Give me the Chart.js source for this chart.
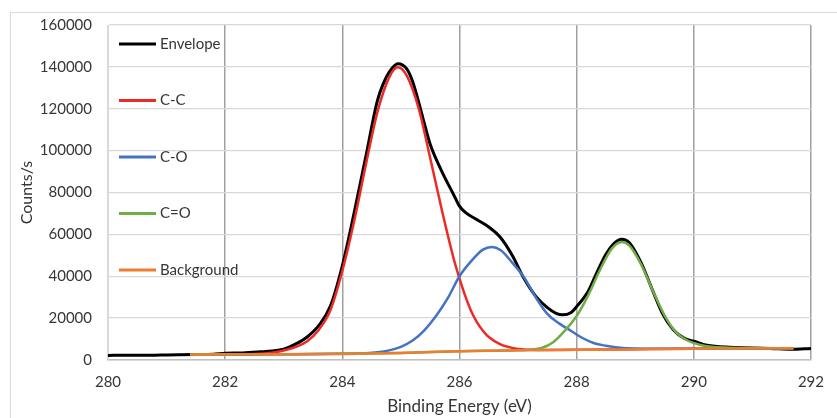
<!DOCTYPE html>
<html>
<head>
<meta charset="utf-8">
<script src="https://cdn.jsdelivr.net/npm/chart.js@4.4.0/dist/chart.umd.min.js"></script>
<style>
  html, body { margin: 0; padding: 0; background: #fff; overflow: hidden; }
  #frame { position: absolute; left: 10px; top: 12px; width: 900px; height: 500px; border: 1px solid #d9d9d9; }
  #wrap { position: absolute; left: 0; top: 0; width: 837px; height: 418px; }
</style>
</head>
<body>
<div id="frame"></div>
<div id="wrap"><canvas id="xpsChart"></canvas></div>
<script>
// C 1s spectrum, binding energy in eV, intensity in counts/s
const envelopeEnergy = [280.0, 280.3, 280.6, 280.9, 281.2, 281.5, 281.8, 282.0, 282.3, 282.6, 282.8, 283.0, 283.2, 283.4, 283.6, 283.8, 284.0, 284.2, 284.4, 284.6, 284.7, 284.8, 284.95, 285.1, 285.2, 285.3, 285.4, 285.5, 285.7, 285.9, 286.0, 286.1, 286.3, 286.5, 286.7, 286.9, 287.1, 287.3, 287.5, 287.65, 287.76, 287.9, 288.0, 288.2, 288.32, 288.5, 288.65, 288.77, 288.9, 289.1, 289.3, 289.47, 289.65, 289.84, 290.0, 290.2, 290.4, 290.7, 291.0, 291.3, 291.68, 292.0];
const envelopeCounts = [2200, 2300, 2250, 2350, 2450, 2600, 2800, 3200, 3400, 3900, 4300, 5200, 7600, 11000, 16500, 26000, 45000, 70000, 97000, 124000, 132000, 137500, 141500, 139000, 133000, 123500, 113000, 103000, 90000, 79000, 73500, 70500, 67000, 63500, 58500, 50000, 39000, 30500, 25000, 22300, 21600, 22600, 25500, 33000, 40200, 50500, 56000, 57700, 56000, 46500, 33000, 22000, 14500, 10300, 9000, 7200, 6400, 6000, 5700, 5500, 5100, 5500];

const ccEnergy = [281.4, 282.0, 282.5, 282.8, 283.0, 283.2, 283.4, 283.6, 283.8, 284.0, 284.2, 284.4, 284.6, 284.8, 284.95, 285.1, 285.3, 285.5, 285.7, 285.9, 286.0, 286.1, 286.2, 286.3, 286.4, 286.5, 286.7, 286.9, 287.1, 287.4, 288.0, 289.0, 290.0, 291.0, 291.7];
const ccCounts = [2600, 2700, 2900, 3500, 4500, 6200, 9000, 14500, 24000, 42500, 66000, 93000, 118500, 135000, 139800, 135800, 120500, 96500, 71500, 48500, 39000, 30500, 23300, 18000, 14000, 11000, 7500, 5800, 5000, 4800, 4850, 5150, 5400, 5500, 5600];

const coEnergy = [281.4, 283.0, 284.0, 284.4, 284.6, 284.8, 285.0, 285.2, 285.4, 285.6, 285.8, 286.0, 286.2, 286.4, 286.55, 286.7, 286.9, 287.1, 287.3, 287.5, 287.7, 287.9, 288.1, 288.3, 288.5, 288.7, 289.0, 289.4, 290.0, 291.0, 291.7];
const coCounts = [2600, 2750, 2950, 3200, 3650, 4600, 6300, 9300, 14200, 21000, 29500, 40000, 47200, 52700, 54000, 52500, 46500, 39500, 30000, 22000, 17500, 14000, 10500, 8000, 6800, 6000, 5500, 5400, 5400, 5500, 5600];

const c2oEnergy = [281.4, 283.0, 285.0, 286.0, 287.0, 287.2, 287.4, 287.6, 287.8, 288.0, 288.2, 288.4, 288.6, 288.77, 288.9, 289.1, 289.3, 289.5, 289.7, 289.9, 290.1, 290.3, 290.6, 291.0, 291.7];
const c2oCounts = [2600, 2750, 3400, 4200, 4650, 4950, 5700, 8500, 14000, 21000, 31000, 43100, 53200, 56400, 54600, 45700, 33100, 21350, 13150, 9200, 7300, 6300, 5900, 5700, 5600];

const bgEnergy = [281.4, 282.0, 283.0, 284.0, 284.5, 285.0, 285.5, 286.0, 286.5, 287.0, 287.5, 288.0, 288.5, 289.0, 289.5, 290.0, 291.0, 291.7];
const bgCounts = [2600, 2700, 2750, 2900, 3050, 3400, 3850, 4200, 4450, 4650, 4750, 4850, 4950, 5150, 5300, 5400, 5500, 5600];

const seriesNames = ['Envelope', 'C-C', 'C-O', 'C=O', 'Background'];
const seriesColors = ['#000000', '#ec2a26', '#4472c4', '#70ad47', '#ed7d31'];

function toPoints(xs, ys) {
    return xs.map((x, i) => ({ x: x, y: ys[i] }));
}

// legend drawn inside the plot, one entry per row like the Excel original
const plotLegend = {
    id: 'plotLegend',
    afterDraw(chart) {
        const { ctx, chartArea } = chart;
        ctx.save();
        ctx.font = '15px Lato';
        ctx.textBaseline = 'middle';
        ctx.textAlign = 'left';
        chart.data.datasets.forEach((ds, i) => {
            const y = chartArea.top + 19 + i * 56.5;
            ctx.strokeStyle = ds.borderColor;
            ctx.lineWidth = 3;
            ctx.beginPath();
            ctx.moveTo(chartArea.left + 11, y);
            ctx.lineTo(chartArea.left + 48, y);
            ctx.stroke();
            ctx.fillStyle = '#363636';
            ctx.fillText(ds.label, chartArea.left + 52, y);
        });
        ctx.restore();
    }
};

Chart.defaults.font.family = 'Lato';
Chart.defaults.color = '#363636';

const ctx = document.getElementById('xpsChart');
new Chart(ctx, {
    type: 'line',
    data: {
        datasets: [
            { label: seriesNames[0], data: toPoints(envelopeEnergy, envelopeCounts), borderColor: seriesColors[0], borderWidth: 3, order: 5 },
            { label: seriesNames[1], data: toPoints(ccEnergy, ccCounts), borderColor: seriesColors[1], borderWidth: 2.5, order: 4 },
            { label: seriesNames[2], data: toPoints(coEnergy, coCounts), borderColor: seriesColors[2], borderWidth: 2.5, order: 3 },
            { label: seriesNames[3], data: toPoints(c2oEnergy, c2oCounts), borderColor: seriesColors[3], borderWidth: 2.5, order: 2 },
            { label: seriesNames[4], data: toPoints(bgEnergy, bgCounts), borderColor: seriesColors[4], borderWidth: 2.5, order: 1 }
        ]
    },
    options: {
        responsive: true,
        maintainAspectRatio: false,
        animation: false,
        layout: { padding: { left: 10, top: 22, right: 15, bottom: 0 } },
        elements: {
            point: { radius: 0 },
            line: { cubicInterpolationMode: 'monotone', fill: false }
        },
        plugins: {
            legend: { display: false },
            tooltip: { enabled: false }
        },
        scales: {
            x: {
                type: 'linear',
                min: 280,
                max: 292,
                afterFit: function (scale) { scale.height = 58; },
                ticks: { stepSize: 2, padding: 13, font: { size: 15 } },
                grid: {
                    drawTicks: false,
                    lineWidth: 1.5,
                    color: function (c) { return c.tick && c.tick.value === 280 ? '#d9d9d9' : '#a0a0a0'; }
                },
                border: { color: '#bfbfbf', width: 1.5 },
                title: { display: true, text: 'Binding Energy (eV)', font: { size: 17 }, padding: { top: 0, bottom: 0.8 } }
            },
            y: {
                min: 0,
                max: 160000,
                afterFit: function (scale) { scale.width = 98; },
                ticks: {
                    stepSize: 20000,
                    padding: 16,
                    font: { size: 15 },
                    callback: function (v) { return String(v); }
                },
                grid: { drawTicks: false, color: '#d9d9d9', lineWidth: 1.3 },
                border: { color: '#d9d9d9' },
                title: { display: true, text: 'Counts/s', font: { size: 16 }, padding: { top: 7.4, bottom: 0 } }
            }
        }
    },
    plugins: [plotLegend]
});
</script>
</body>
</html>
